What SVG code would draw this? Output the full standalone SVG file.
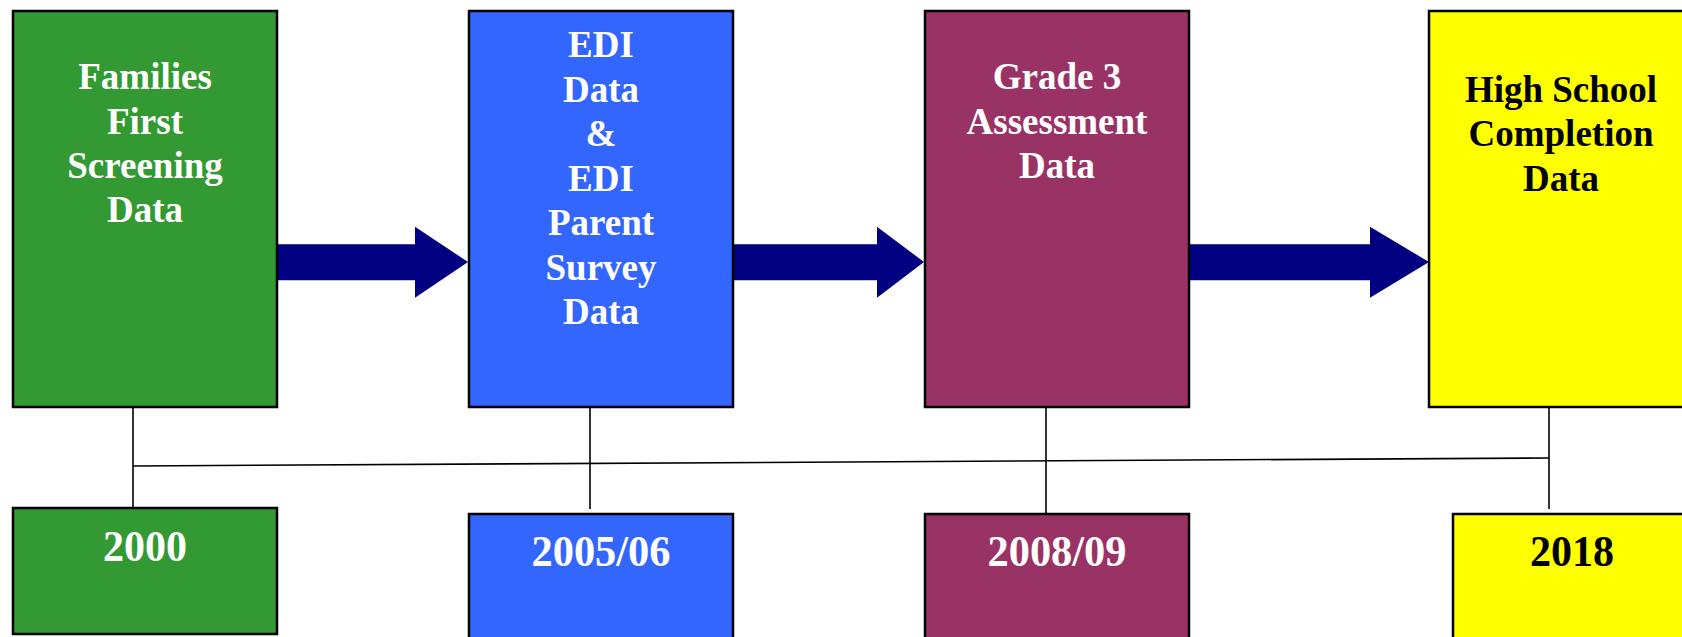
<svg xmlns="http://www.w3.org/2000/svg" width="1682" height="637" viewBox="0 0 1682 637">
<style>
.box{stroke:#000;stroke-width:2.5}
.g{fill:#339933}.b{fill:#3366FF}.p{fill:#993366}.y{fill:#FFFF00}
.t{font-family:"Liberation Serif","Times New Roman",serif;font-weight:bold;font-size:37px;text-anchor:middle;fill:#fff}
.yr{font-family:"Liberation Serif","Times New Roman",serif;font-weight:bold;font-size:44px;text-anchor:middle;fill:#fff}
.dk{fill:#000}
.arrow{fill:#000080}
.ln{stroke:#000;stroke-width:1.6;fill:none}
</style>
<rect width="1682" height="637" fill="#fff"/>
<g id="connectors">
<polygon class="arrow" points="277,244.3 415,244.3 415,226.7 468,262 415,297.7 415,280.3 277,280.3"/>
<polygon class="arrow" points="733,244.3 877,244.3 877,226.7 924,262 877,297.7 877,280.3 733,280.3"/>
<polygon class="arrow" points="1189,244.3 1370,244.3 1370,226.7 1429,262 1370,297.7 1370,280.3 1189,280.3"/>
<line class="ln" x1="133" y1="408" x2="133" y2="508"/>
<line class="ln" x1="590" y1="408" x2="590" y2="509"/>
<line class="ln" x1="1046" y1="408" x2="1046" y2="514"/>
<line class="ln" x1="1549" y1="408" x2="1549" y2="509"/>
<line class="ln" x1="133" y1="466" x2="1549" y2="458"/>
</g>
<g id="node-families">
<rect class="box g" x="13" y="11" width="264" height="396"/>
<text class="t" x="145"><tspan x="145" y="89">Families</tspan><tspan x="145" y="133.5">First</tspan><tspan x="145" y="178">Screening</tspan><tspan x="145" y="222">Data</tspan></text>
</g>
<g id="node-edi">
<rect class="box b" x="469" y="11" width="264" height="396"/>
<text class="t" x="601"><tspan x="601" y="57">EDI</tspan><tspan x="601" y="101.5">Data</tspan><tspan x="601" y="146">&amp;</tspan><tspan x="601" y="190.5">EDI</tspan><tspan x="601" y="235">Parent</tspan><tspan x="601" y="279.5">Survey</tspan><tspan x="601" y="324">Data</tspan></text>
</g>
<g id="node-grade3">
<rect class="box p" x="925" y="11" width="264" height="396"/>
<text class="t" x="1057"><tspan x="1057" y="89">Grade 3</tspan><tspan x="1057" y="133.5">Assessment</tspan><tspan x="1057" y="178">Data</tspan></text>
</g>
<g id="node-highschool">
<rect class="box y" x="1429" y="11" width="264" height="396"/>
<text class="t dk" x="1561"><tspan x="1561" y="101.5">High School</tspan><tspan x="1561" y="146">Completion</tspan><tspan x="1561" y="190.5">Data</tspan></text>
</g>
<g id="node-2000">
<rect class="box g" x="13" y="508" width="264" height="126"/>
<text class="yr" x="145" y="561" textLength="84" lengthAdjust="spacingAndGlyphs">2000</text>
</g>
<g id="node-2005">
<rect class="box b" x="469" y="514" width="264" height="140"/>
<text class="yr" x="601" y="566" textLength="139" lengthAdjust="spacingAndGlyphs">2005/06</text>
</g>
<g id="node-2008">
<rect class="box p" x="925" y="514" width="264" height="140"/>
<text class="yr" x="1057" y="566" textLength="139" lengthAdjust="spacingAndGlyphs">2008/09</text>
</g>
<g id="node-2018">
<rect class="box y" x="1453" y="514" width="264" height="140"/>
<text class="yr dk" x="1572" y="566" textLength="84" lengthAdjust="spacingAndGlyphs">2018</text>
</g>
</svg>
